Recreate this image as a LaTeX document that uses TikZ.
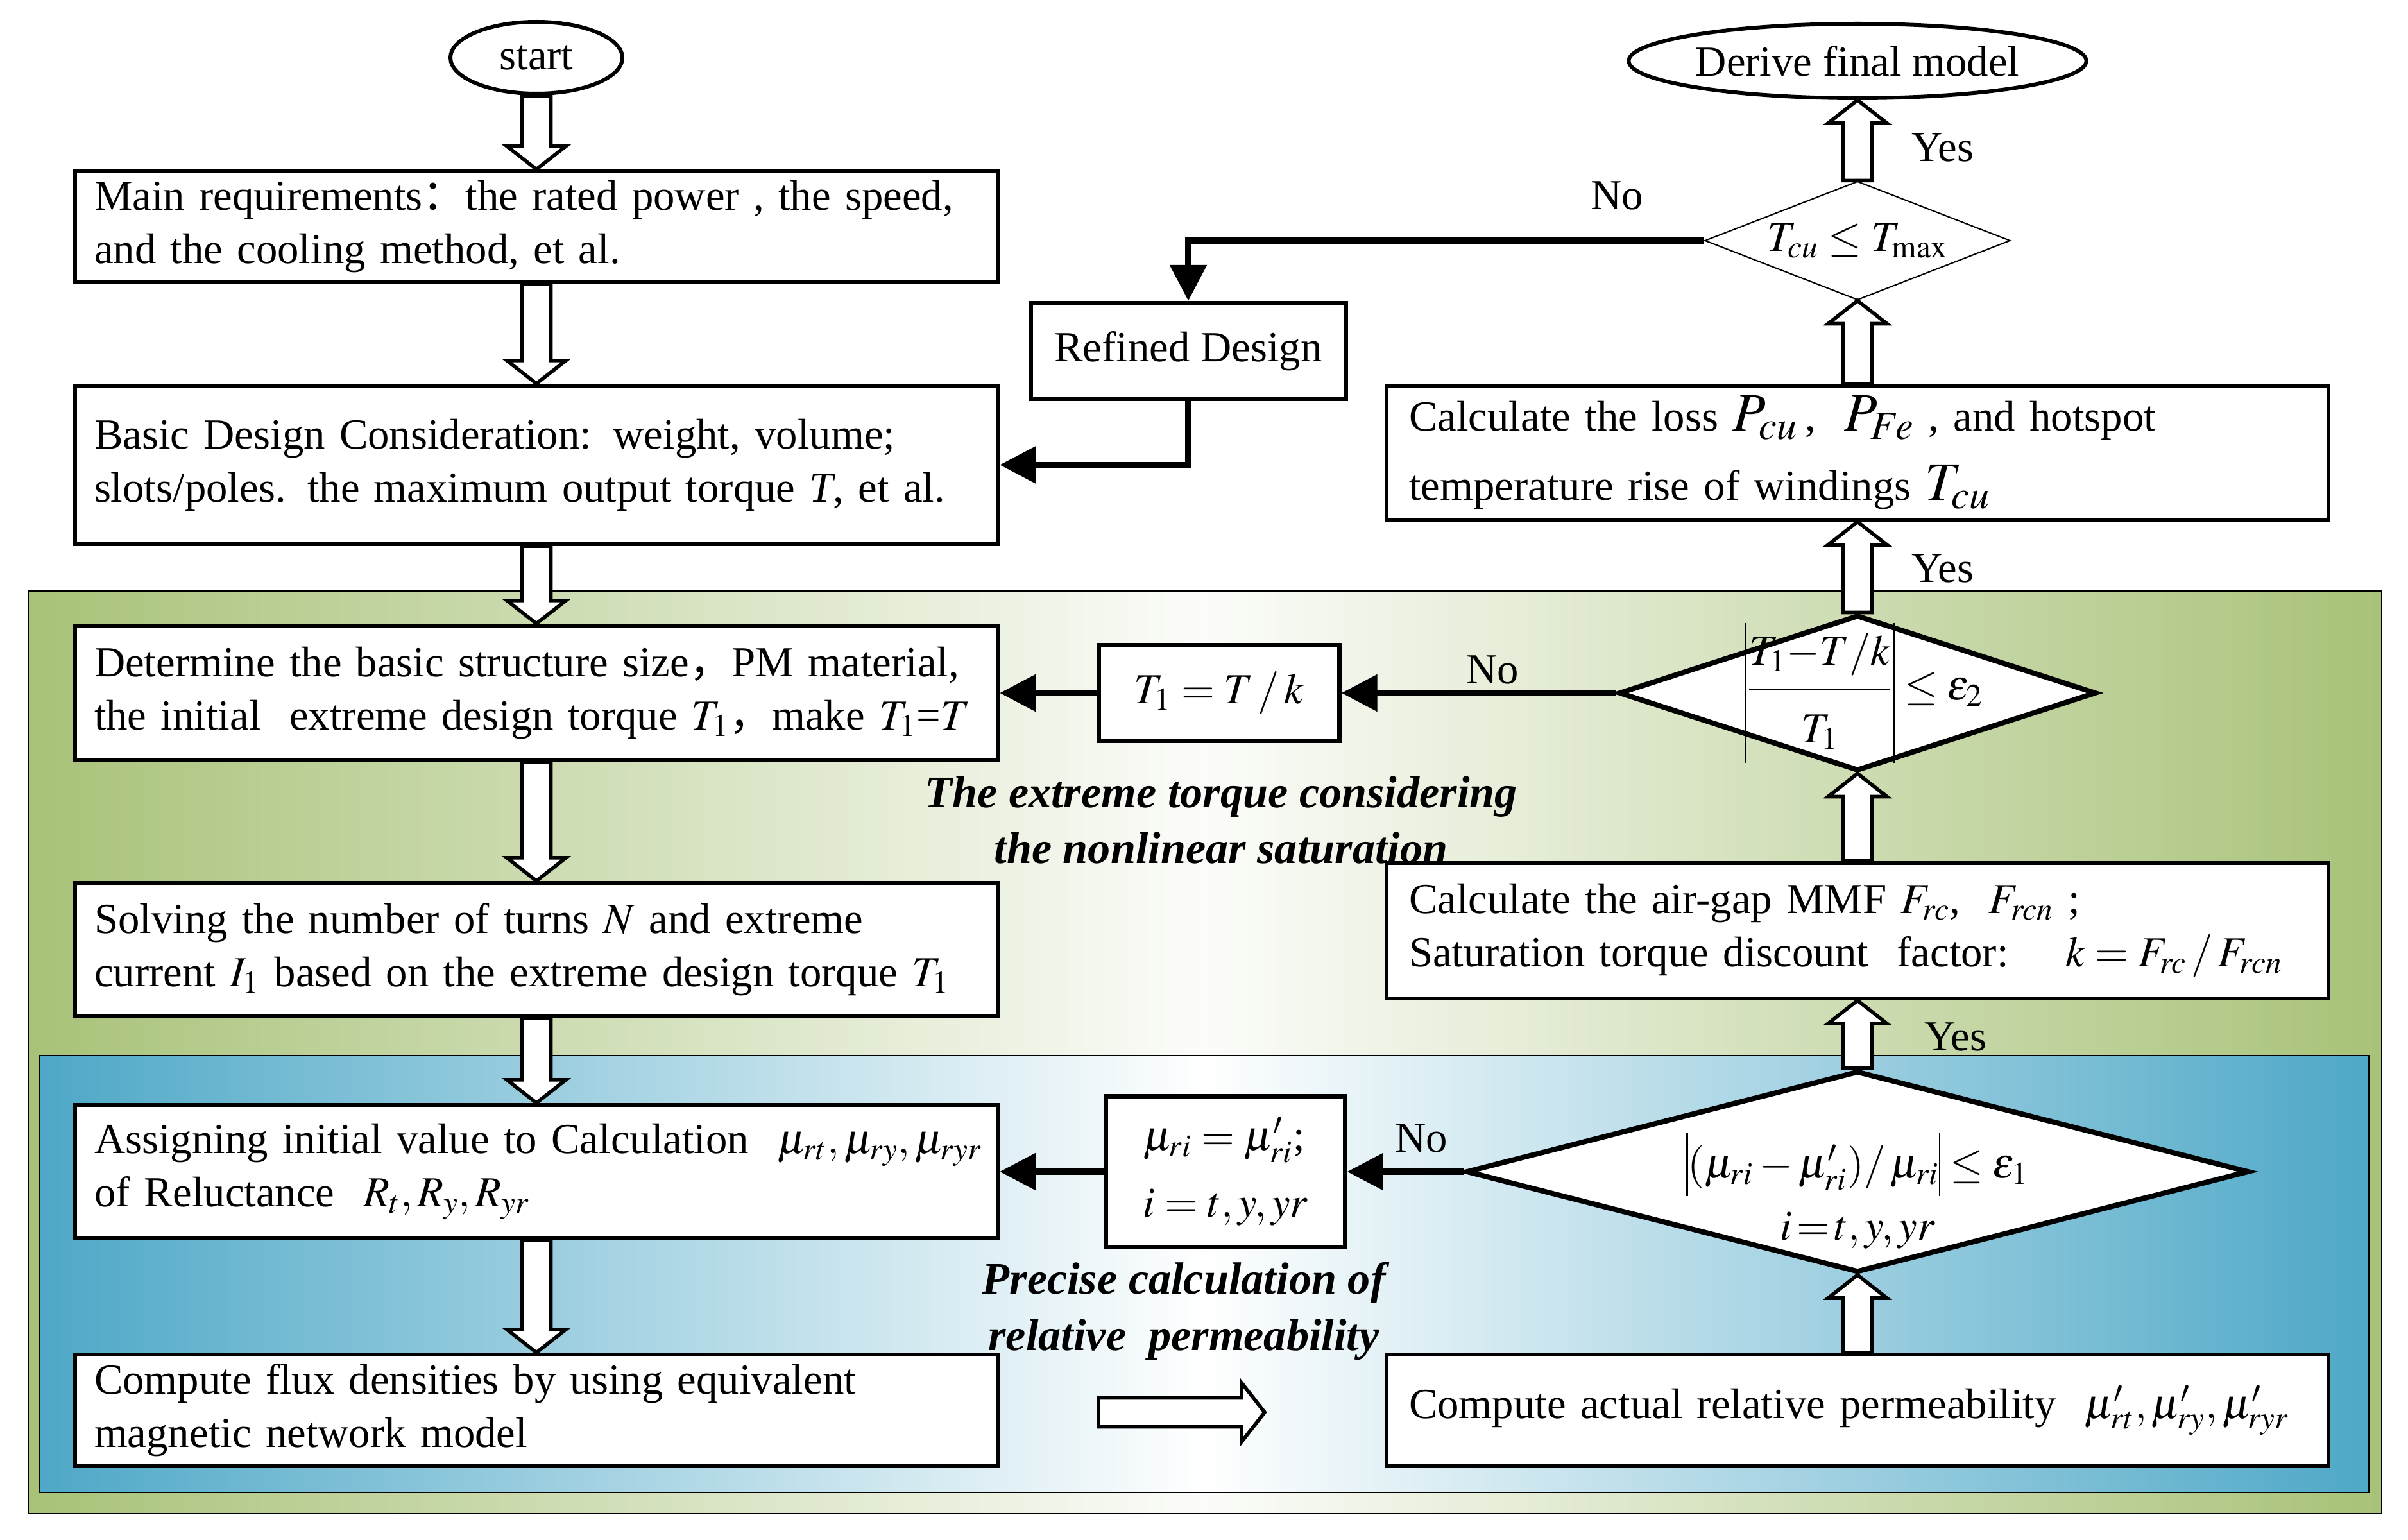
\documentclass[tikz,border=0pt]{standalone}
\usepackage{amsmath}
\usepackage{mathptmx}
\usepackage{fontspec}
\setmainfont{Liberation Serif}
\newfontfamily\cjk{Noto Sans CJK SC}
\usetikzlibrary{shapes.geometric,arrows.meta,positioning,calc}
\definecolor{panelgreen}{RGB}{168,194,120}
\definecolor{panelblue}{RGB}{78,168,199}

\newcommand{\bodyfont}{\fontsize{19}{23.6}\selectfont}
\newcommand{\notefont}{\fontsize{20}{25}\selectfont\bfseries\itshape}
\newcommand{\largemath}[1]{{\fontsize{24}{24}\selectfont$#1$}}
\newcommand{\fwcomma}{{\cjk ，}}
\newcommand{\fwcolon}{{\cjk ：}}
% plain bar for absolute values, #1 height, #2 depth
\newcommand{\absbar}[2]{\vrule height #1 depth #2 width 0.7pt}

\tikzset{
    panel/.style={draw, line width=0.6pt},
    flowbox/.style={draw, rectangle, fill=white, line width=1.8pt, inner ysep=0pt},
    leftbox/.style={flowbox, inner xsep=0.3cm, text width=13.78cm, align=left},
    rightbox/.style={flowbox, inner xsep=0.35cm, text width=13.98cm, align=left},
    smallbox/.style={flowbox, inner xsep=0.25cm},
    terminal/.style={draw, ellipse, fill=white, line width=1.7pt, inner sep=0pt},
    decision/.style={draw, diamond, fill=white, line width=2.3pt, inner sep=0pt},
    hollow/.style={draw, fill=white, line width=1.6pt, line join=miter},
    conn/.style={line width=2.6pt, -{Triangle[length=0.56cm, width=0.56cm]}},
}

% wide hollow arrow from #1 to #2
\newcommand{\fatarrow}[2]{%
    \path ($(#2)!0.36cm!(#1)$) coordinate (fa-h);
    \draw[hollow] ($(#1)!0.225cm!90:(#2)$) -- ($(fa-h)!0.225cm!90:(#2)$)
        -- ($(fa-h)!0.46cm!90:(#2)$) -- (#2) -- ($(fa-h)!0.46cm!-90:(#2)$)
        -- ($(fa-h)!0.225cm!-90:(#2)$) -- ($(#1)!0.225cm!-90:(#2)$) -- cycle;
}

\begin{document}
\begin{tikzpicture}[font=\bodyfont]
    \useasboundingbox (0,0) rectangle (37.53,-24);

    % Background panels
    \draw[panel, left color=panelgreen, right color=panelgreen, middle color=panelgreen!4] (0.44,-9.21) rectangle (37.12,-23.59);
    \draw[panel, left color=panelblue, right color=panelblue, middle color=white] (0.62,-16.45) rectangle (36.92,-23.26);

    % Left column
    \node[terminal, minimum width=2.68cm, minimum height=1.12cm] (start) at (8.36,-0.90) {start};
    \node[leftbox, minimum height=1.73cm] (main) at (8.36,-3.535) {Main requirements\fwcolon the rated power , the speed,\\and the cooling method, et al.};
    \node[leftbox, minimum height=2.47cm] (basic) at (8.36,-7.245) {Basic Design Consideration: weight, volume;\\slots/poles. the maximum output torque \textit{T}, et al.};
    \node[leftbox, minimum height=2.10cm] (determine) at (8.36,-10.80) {Determine the basic structure size\fwcomma PM material,\\the initial\ \ extreme design torque $T_1$\fwcomma make $T_1$=$T$};
    \node[leftbox, minimum height=2.07cm] (solving) at (8.36,-14.795) {Solving the number of turns $N$ and extreme\\current $I_1$ based on the extreme design torque $T_1$};
    \node[leftbox, minimum height=2.08cm] (assign) at (8.36,-18.26) {\mbox{Assigning initial value to Calculation\ \ $\mu_{rt}, \mu_{ry}, \mu_{ryr}$}\\of Reluctance\ \ $R_t, R_y, R_{yr}$};
    \node[leftbox, minimum height=1.74cm] (flux) at (8.36,-21.98) {Compute flux densities by using equivalent\\magnetic network model};

    % Middle column
    \node[smallbox, minimum width=4.91cm, minimum height=1.50cm] (refined) at (18.52,-5.47) {Refined Design};
    \node[smallbox, minimum width=3.75cm, minimum height=1.50cm] (t1box) at (19.00,-10.80) {$T_1 = T \,/\, k$};
    \node[smallbox, minimum width=3.73cm, minimum height=2.35cm, align=left] (mubox) at (19.10,-18.26) {$\mu_{ri} = \mu'_{ri}$;\\[6pt]$i = t, y, yr$};

    % Right column
    \node[terminal, minimum width=6.78cm, minimum height=1.16cm] (final) at (28.95,-0.95) {Derive final model};
    \node[decision, line width=0.6pt, minimum width=4.76cm, minimum height=1.85cm,
        label=center:{$T_{cu} \leq T_{\max}$}] (tcu) at (28.95,-3.75) {};
    \node[rightbox, minimum height=2.09cm] (loss) at (28.95,-7.055) {Calculate the loss \largemath{P_{cu}}\,,\ \ \largemath{P_{Fe}}\ , and hotspot\\[7pt]temperature rise of windings \largemath{T_{cu}}};
    \node[decision, minimum width=7.44cm, minimum height=2.43cm,
        label={[xshift=0.1cm]center:{$\absbar{34pt}{28pt}\dfrac{\rule[-8pt]{0pt}{8pt}T_1{-}T/k}{\rule{0pt}{21pt}T_1}\absbar{34pt}{28pt} \leq \varepsilon_2$}}] (eps2) at (28.95,-10.80) {};
    \node[rightbox, minimum height=2.11cm] (mmf) at (28.95,-14.505) {Calculate the air-gap MMF $F_{rc}$,\ \ $F_{rcn}$\ ;\\Saturation torque discount\ \ factor:\quad\ $k = F_{rc} \,/\, F_{rcn}$};
    \node[decision, minimum width=12.2cm, minimum height=3.14cm,
        label={[align=center, yshift=-0.30cm]center:{$\absbar{20pt}{8pt}(\mu_{ri} - \mu'_{ri})/\,\mu_{ri}\absbar{20pt}{8pt} \leq \varepsilon_1$\\[4pt]$i\,{=}\,t, y, yr$}}] (eps1) at (28.95,-18.26) {};
    \node[rightbox, minimum height=1.74cm] (actual) at (28.95,-21.98) {Compute actual relative permeability\ \ $\mu'_{rt}, \mu'_{ry}, \mu'_{ryr}$};

    % Loop notes
    \node[font=\notefont, align=center] (note1) at (19.03,-12.78) {The extreme torque considering\\the nonlinear saturation};
    \node[font=\notefont, align=center] (note2) at (18.45,-20.43) {Precise calculation of\\relative\ \ permeability};

    % Main flow
    \fatarrow{start.south}{main.north}
    \fatarrow{main.south}{basic.north}
    \fatarrow{basic.south}{determine.north}
    \fatarrow{determine.south}{solving.north}
    \fatarrow{solving.south}{assign.north}
    \fatarrow{assign.south}{flux.north}
    \coordinate (gap-a) at (17.12,-22.01);
    \coordinate (gap-b) at (19.71,-22.01);
    \fatarrow{gap-a}{gap-b}
    \fatarrow{actual.north}{eps1.south}
    \fatarrow{eps1.north}{mmf.south}
    \fatarrow{mmf.north}{eps2.south}
    \fatarrow{eps2.north}{loss.south}
    \fatarrow{loss.north}{tcu.south}
    \fatarrow{tcu.north}{final.south}

    % Feedback loops
    \draw[conn] (tcu.west) -| (refined.north);
    \draw[conn] (refined.south) |- (basic.east);
    \draw[conn] (eps2.west) -- (t1box.east);
    \draw[conn] (t1box.west) -- (determine.east);
    \draw[conn] (eps1.west) -- (mubox.east);
    \draw[conn] (mubox.west) -- (assign.east);

    % Branch labels
    \node (yes1) at (30.28,-2.30) {Yes};
    \node (no1) at (25.20,-3.05) {No};
    \node (yes2) at (30.28,-8.86) {Yes};
    \node (no2) at (23.26,-10.44) {No};
    \node (yes3) at (30.48,-16.16) {Yes};
    \node (no3) at (22.15,-17.74) {No};
\end{tikzpicture}
\end{document}
